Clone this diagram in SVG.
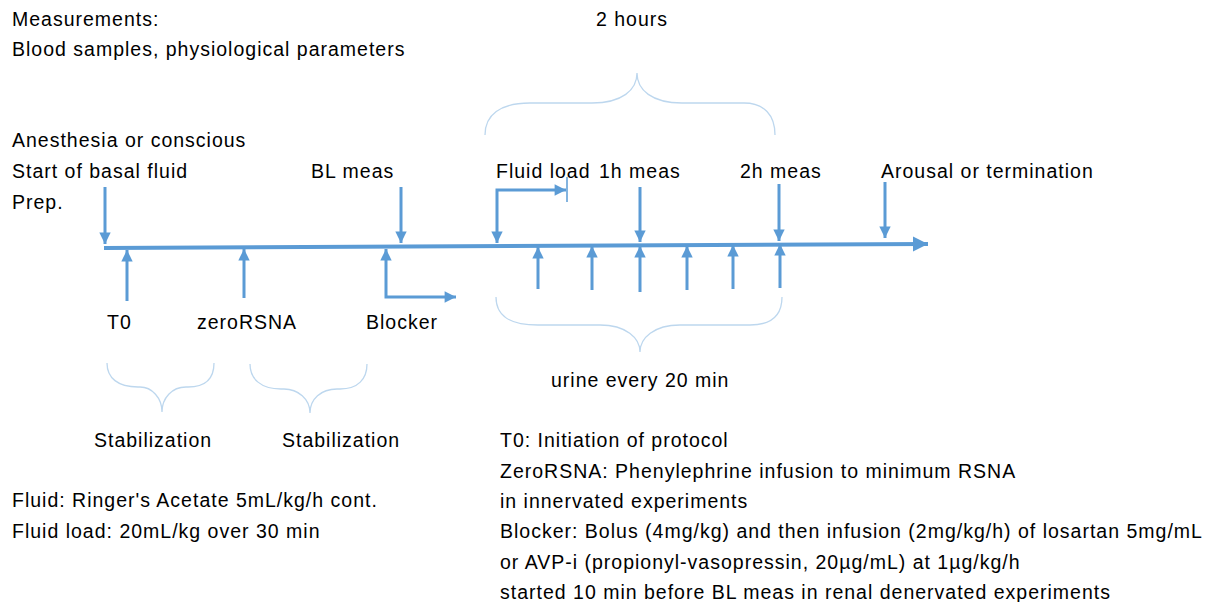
<svg xmlns="http://www.w3.org/2000/svg" width="1209" height="602" viewBox="0 0 1209 602">
<style>
text{font-family:"Liberation Sans",Arial,sans-serif;font-size:19.5px;fill:#000;letter-spacing:1px}
.ln{stroke:#5b9bd5;stroke-width:3;fill:none}
.br{stroke:#bdd7ee;stroke-width:1.3;fill:none}
</style>
<defs>
<marker id="ah" viewBox="0 0 10 10" refX="10" refY="5" markerWidth="4" markerHeight="3.8" orient="auto-start-reverse" markerUnits="strokeWidth">
<path d="M0,0 L10,5 L0,10 Z" fill="#5b9bd5"/>
</marker>
<marker id="ahb" viewBox="0 0 10 10" refX="10" refY="5" markerWidth="3.75" markerHeight="5" orient="auto" markerUnits="strokeWidth">
<path d="M0,0 L10,5 L0,10 Z" fill="#5b9bd5"/>
</marker>
</defs>
<rect width="1209" height="602" fill="#fff"/>
<g id="connectors">
<line x1="104" y1="248" x2="928" y2="244" stroke="#5b9bd5" stroke-width="4" marker-end="url(#ahb)"/>
<line class="ln" x1="105" y1="187" x2="105" y2="244" marker-end="url(#ah)"/>
<line class="ln" x1="401" y1="187" x2="401" y2="243" marker-end="url(#ah)"/>
<polyline class="ln" points="497,243 497,190 566,190" marker-start="url(#ah)" marker-end="url(#ah)"/>
<line x1="567" y1="177" x2="567" y2="202" stroke="#5b9bd5" stroke-width="1.5"/>
<line class="ln" x1="640" y1="187" x2="640" y2="242" marker-end="url(#ah)"/>
<line class="ln" x1="779" y1="184" x2="779" y2="241" marker-end="url(#ah)"/>
<line class="ln" x1="885" y1="182" x2="885" y2="238" marker-end="url(#ah)"/>
<line class="ln" x1="127" y1="301" x2="127" y2="250" marker-end="url(#ah)"/>
<line class="ln" x1="244" y1="298" x2="244" y2="249" marker-end="url(#ah)"/>
<polyline class="ln" points="386,249 386,297 456,297" marker-start="url(#ah)" marker-end="url(#ah)"/>
<line class="ln" x1="538" y1="289" x2="538" y2="247" marker-end="url(#ah)"/>
<line class="ln" x1="592" y1="290" x2="592" y2="246" marker-end="url(#ah)"/>
<line class="ln" x1="640" y1="292" x2="640" y2="246" marker-end="url(#ah)"/>
<line class="ln" x1="687" y1="290" x2="687" y2="246" marker-end="url(#ah)"/>
<line class="ln" x1="733" y1="289" x2="733" y2="245" marker-end="url(#ah)"/>
<line class="ln" x1="780" y1="288" x2="780" y2="244" marker-end="url(#ah)"/>
</g>
<g id="braces">
<path class="br" d="M485,135 C485,115 500,103 530,103 L592,103 C622,103 637,90 637,73 C637,90 652,103 682,103 L744,103 C764,103 775,115 775,135"/>
<path class="br" d="M496,297 C496,315 508,325 538,325 L600,325 C626,325 640,338 640,352 C640,338 654,325 680,325 L750,325 C772,325 782,315 782,297"/>
<path class="br" d="M107,363 C107,378 118,387 138,387 L140,387 C152,387 162,398 162,412 C162,398 172,387 186,387 L188,387 C206,387 214,378 214,363"/>
<path class="br" d="M250,364 C250,379 261,389 281,389 L284,389 C298,389 310,399 310,413 C310,399 321,389 337,389 L340,389 C358,389 367,379 367,364"/>
</g>
<g id="labels">
<text x="12" y="26">Measurements:</text>
<text x="12" y="56">Blood samples, physiological parameters</text>
<text x="596" y="26">2 hours</text>
<text x="12" y="147">Anesthesia or conscious</text>
<text x="12" y="178">Start of basal fluid</text>
<text x="12" y="209">Prep.</text>
<text x="311" y="178">BL meas</text>
<text x="496" y="178">Fluid load</text>
<text x="599" y="178">1h meas</text>
<text x="740" y="178">2h meas</text>
<text x="881" y="178">Arousal or termination</text>
<text x="107" y="329">T0</text>
<text x="197" y="329">zeroRSNA</text>
<text x="366" y="329">Blocker</text>
<text x="551" y="387">urine every 20 min</text>
<text x="94" y="447">Stabilization</text>
<text x="282" y="447">Stabilization</text>
<text x="12" y="507">Fluid: Ringer's Acetate 5mL/kg/h cont.</text>
<text x="12" y="538">Fluid load: 20mL/kg over 30 min</text>
<text x="500" y="447">T0: Initiation of protocol</text>
<text x="500" y="478">ZeroRSNA: Phenylephrine infusion to minimum RSNA</text>
<text x="500" y="508">in innervated experiments</text>
<text x="500" y="538">Blocker: Bolus (4mg/kg) and then infusion (2mg/kg/h) of losartan 5mg/mL</text>
<text x="500" y="569">or AVP-i (propionyl-vasopressin, 20µg/mL) at 1µg/kg/h</text>
<text x="500" y="599">started 10 min before BL meas in renal denervated experiments</text>
</g>
</svg>
